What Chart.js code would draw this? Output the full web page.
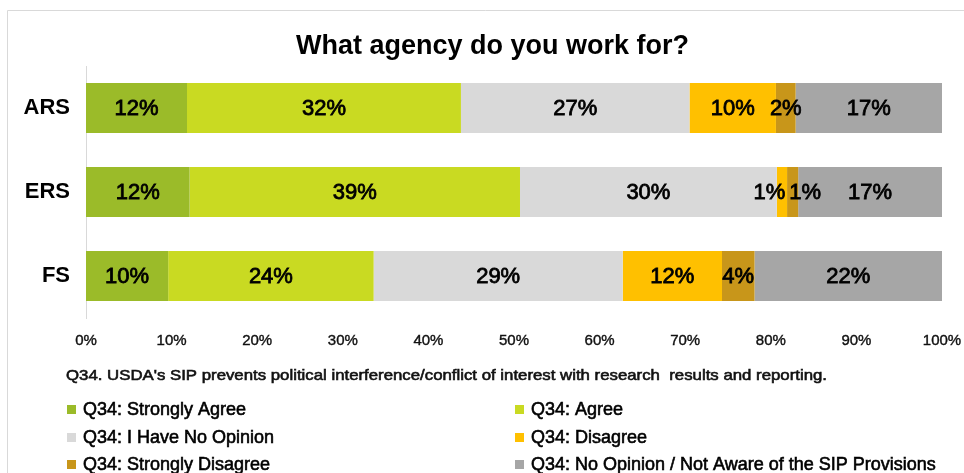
<!DOCTYPE html>
<html>
<head>
<meta charset="utf-8">
<title>What agency do you work for?</title>
<script src="https://cdn.jsdelivr.net/npm/chart.js@4.4.1/dist/chart.umd.min.js"></script>
<style>
    html, body { margin: 0; padding: 0; background: #fff; }
    #wrap { width: 964px; height: 473px; position: relative; }
</style>
</head>
<body>
<div id="wrap"><canvas id="agencyChart" width="964" height="473"></canvas></div>
<script>
// ============================================================================
// Data (percent of respondents)
// ============================================================================
const agencies = ['ARS', 'ERS', 'FS'];

const seriesNames = [
    'Q34: Strongly Agree',
    'Q34: Agree',
    'Q34: I Have No Opinion',
    'Q34: Disagree',
    'Q34: Strongly Disagree',
    'Q34: No Opinion / Not Aware of the SIP Provisions'
];

const stronglyAgree    = [11.8, 12.1, 9.6];
const agree            = [32.0, 38.6, 24.0];
const noOpinion        = [26.7, 30.0, 29.1];
const disagree         = [10.1, 1.2, 11.6];
const stronglyDisagree = [2.3, 1.3, 3.8];
const notAware         = [17.1, 16.8, 21.9];

const xTickValues = [0, 10, 20, 30, 40, 50, 60, 70, 80, 90, 100];

const titleText = 'What agency do you work for?';
const captionText = "Q34. USDA's SIP prevents political interference/conflict of interest with research  results and reporting.";

// ============================================================================
// Styling
// ============================================================================
const seriesColors = ['#9BBB29', '#C9DA22', '#D9D9D9', '#FFC000', '#C8961A', '#A6A6A6'];
const FONT = "'Liberation Sans', Arial, sans-serif";

// Draws text squeezed/stretched to a given width, with a faint stroke for weight
function fitText(ctx, text, x, y, width, stroke) {
    const w = ctx.measureText(text).width;
    ctx.save();
    ctx.translate(x, y);
    ctx.scale(width / w, 1);
    if (stroke) {
        ctx.lineWidth = stroke;
        ctx.strokeStyle = ctx.fillStyle;
        ctx.strokeText(text, 0, 0);
    }
    ctx.fillText(text, 0, 0);
    ctx.restore();
}

function heavyText(ctx, text, x, y, stroke) {
    ctx.lineWidth = stroke;
    ctx.strokeStyle = ctx.fillStyle;
    ctx.strokeText(text, x, y);
    ctx.fillText(text, x, y);
}

// Frame, title, caption and two-column legend
const decorPlugin = {
    id: 'decor',
    afterDraw(chart) {
        const ctx = chart.ctx;
        ctx.save();

        // light frame (top + left edge)
        ctx.strokeStyle = '#D9D9D9';
        ctx.lineWidth = 1;
        ctx.beginPath();
        ctx.moveTo(7.5, 473);
        ctx.lineTo(7.5, 10.5);
        ctx.lineTo(964, 10.5);
        ctx.stroke();

        // title
        ctx.fillStyle = '#000';
        ctx.textBaseline = 'middle';
        ctx.textAlign = 'left';
        ctx.font = `bold 28px ${FONT}`;
        fitText(ctx, titleText, 296, 46, 393, 0);

        // caption under the axis
        ctx.fillStyle = '#111';
        ctx.font = `15px ${FONT}`;
        fitText(ctx, captionText, 66, 376, 761, 0.6);

        // legend
        const colX = [67, 515];
        const rowY = [410, 438, 465];
        ctx.font = `18px ${FONT}`;
        chart.data.datasets.forEach((ds, i) => {
            const x = colX[i % 2];
            const y = rowY[Math.floor(i / 2)];
            ctx.fillStyle = ds.backgroundColor;
            ctx.fillRect(x, y - 5, 9, 9);
            ctx.fillStyle = '#000';
            heavyText(ctx, ds.label, x + 16, y, 0.6);
        });

        ctx.restore();
    }
};

// Percentage labels centred in each segment, nudged apart when they collide
const segmentLabelPlugin = {
    id: 'segmentLabels',
    afterDatasetsDraw(chart) {
        const ctx = chart.ctx;
        ctx.save();
        ctx.font = `22px ${FONT}`;
        ctx.fillStyle = '#000';
        ctx.textAlign = 'center';
        ctx.textBaseline = 'middle';

        chart.data.labels.forEach((_, row) => {
            const items = [];
            chart.data.datasets.forEach((ds, di) => {
                const bar = chart.getDatasetMeta(di).data[row];
                const v = ds.data[row];
                if (!bar || !v) return;
                const text = Math.round(v) + '%';
                const w = ctx.measureText(text).width;
                items.push({ text, w, cx: (bar.x + bar.base) / 2, y: bar.y });
            });
            for (let i = 1; i < items.length; i++) {
                const prev = items[i - 1], cur = items[i];
                const overlap = (prev.cx + prev.w / 2 + 4) - (cur.cx - cur.w / 2);
                if (overlap > 0) {
                    prev.cx -= overlap / 2;
                    cur.cx += overlap / 2;
                }
            }
            items.forEach(it => heavyText(ctx, it.text, it.cx, it.y + 1, 0.8));
        });
        ctx.restore();
    }
};

// ============================================================================
// Chart
// ============================================================================
const seriesData = [stronglyAgree, agree, noOpinion, disagree, stronglyDisagree, notAware];

new Chart(document.getElementById('agencyChart'), {
    type: 'bar',
    data: {
        labels: agencies,
        datasets: seriesNames.map((name, i) => ({
            label: name,
            data: seriesData[i],
            backgroundColor: seriesColors[i],
            borderWidth: 0,
            barPercentage: 1,
            categoryPercentage: 0.595
        }))
    },
    options: {
        indexAxis: 'y',
        responsive: false,
        animation: false,
        devicePixelRatio: 1,
        layout: { padding: { top: 66, right: 22, bottom: 109, left: 0 } },
        plugins: {
            legend: { display: false },
            title: { display: false },
            tooltip: { enabled: false }
        },
        scales: {
            x: {
                stacked: true,
                min: 0,
                max: 100,
                afterBuildTicks: scale => { scale.ticks = xTickValues.map(v => ({ value: v })); },
                // keep the plot edge at the layout padding, labels may overhang
                afterFit: scale => { scale.paddingLeft = 0; scale.paddingRight = 0; },
                ticks: {
                    callback: v => v + '%',
                    color: '#111',
                    font: { family: FONT, size: 15 },
                    textStrokeColor: '#111',
                    textStrokeWidth: 0.4,
                    padding: 14,
                    maxRotation: 0
                },
                grid: { display: false, drawTicks: false },
                border: { display: false }
            },
            y: {
                stacked: true,
                afterFit: scale => { scale.width = 86; },
                ticks: {
                    color: '#000',
                    font: { family: FONT, size: 22, weight: 'bold' },
                    padding: 16
                },
                grid: { display: false, drawTicks: false },
                border: { display: true, color: '#D9D9D9', width: 1 }
            }
        }
    },
    plugins: [segmentLabelPlugin, decorPlugin]
});
</script>
</body>
</html>
